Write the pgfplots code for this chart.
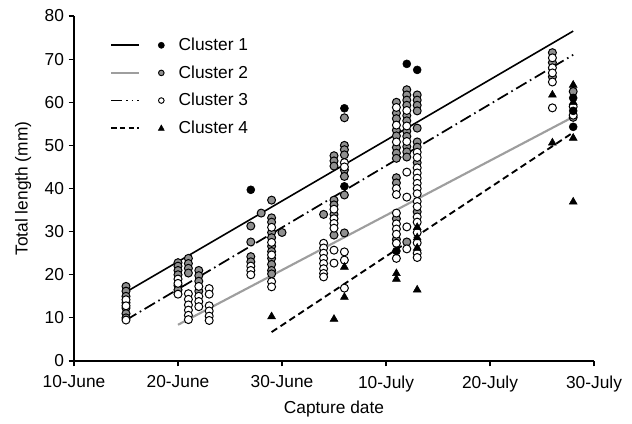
\documentclass[border=0pt]{standalone}
\usepackage{pgfplots}
\pgfplotsset{compat=1.18}
\usepackage{fontspec}
\setmainfont{Liberation Sans}
\definecolor{midgray}{gray}{0.56}
\definecolor{linegray}{gray}{0.62}
\begin{document}
\begin{tikzpicture}
\path[use as bounding box] (-55.5pt,-47.25pt) rectangle (418.5pt,270.75pt);
\begin{axis}[
 at={(0,0)}, anchor=south west,
 width=390pt, height=258.75pt, scale only axis,
 xmin=0, xmax=50, ymin=0, ymax=80,
 axis lines=left, axis line style={line width=0.9pt, -},
 xtick={0,10,...,50}, xticklabels={10-June,20-June,30-June,10-July,20-July,30-July},
 ytick={0,10,...,80},
 tick align=outside, major tick length=4pt, tick style={black, line width=0.8pt},
 /pgf/number format/assume math mode=true,
 tick label style={font=\fontsize{13}{15}\selectfont},
 xticklabel style={yshift=-3.5pt},
 label style={font=\fontsize{13}{15}\selectfont},
 xlabel={Capture date}, ylabel={Total length (mm)},
 xlabel style={at={(axis description cs:0.5,-0.14)}, anchor=center},
 ylabel style={at={(axis description cs:-0.098,0.5)}, anchor=center},
 clip=false,
 legend cell align=left,
 legend style={at={(axis description cs:0.0692,0.937)}, anchor=north west, draw=none, fill=none,
   inner sep=0pt, row sep=9.8pt, column sep=10.5pt, nodes={inner sep=0pt},
   font=\fontsize{13}{15}\selectfont},
]
% legend images
\addlegendimage{legend image code/.code={\draw[black,line width=1.2pt] (0pt,0pt) -- (21pt,0pt); \fill[black] (37.5pt,0pt) circle (2.3pt);}}
\addlegendentry{Cluster 1}
\addlegendimage{legend image code/.code={\draw[linegray,line width=1.6pt] (0pt,0pt) -- (21pt,0pt); \filldraw[fill=midgray,draw=black,line width=0.7pt] (37.5pt,0pt) circle (2.1pt);}}
\addlegendentry{Cluster 2}
\addlegendimage{legend image code/.code={\draw[black,line width=1.3pt,dash pattern=on 8pt off 3pt on 1.2pt off 3pt on 1.2pt off 3pt] (0pt,0pt) -- (21pt,0pt); \filldraw[fill=white,draw=black,line width=0.7pt] (37.5pt,0pt) circle (2.1pt);}}
\addlegendentry{Cluster 3}
\addlegendimage{legend image code/.code={\draw[black,line width=1.3pt,dash pattern=on 4pt off 2.5pt] (0pt,0pt) -- (21pt,0pt); \fill[black] (35.3pt,-1.6pt) -- (39.7pt,-1.6pt) -- (37.5pt,2.4pt) -- cycle;}}
\addlegendentry{Cluster 4}
% Cluster 2 (gray)
\addplot[only marks, mark=*, mark size=3pt, mark options={fill=midgray, draw=black, line width=0.75pt}, forget plot] coordinates {
(5,17.3)(5,16.2)(5,15.0)(5,13.5)(5,12.3)(5,11.0)(5,10.0)
(10,22.8)(10,22.0)(10,21.0)(10,20.0)(10,17.5)(10,16.5)
(11,23.8)(11,22.6)(11,21.5)(11,20.4)
(12,21.0)(12,19.8)(12,18.5)(12,16.2)
(17,31.3)(17,27.6)(17,24.2)(17,23.0)
(18,34.3)
(19,37.3)(19,33.2)(19,32.2)(19,29.8)(19,28.6)(19,26.6)(19,25.4)(19,23.8)(19,22.4)(19,21.0)(19,20.2)
(20,29.8)
(24,34.0)
(25,47.6)(25,46.4)(25,45.2)(25,37.3)(25,36.2)(25,34.0)(25,29.2)
(26,56.4)(26,50.0)(26,49.0)(26,47.8)(26,44.3)(26,42.8)(26,38.5)(26,29.7)
(31,60.0)(31,57.5)(31,56.2)(31,53.5)(31,52.2)(31,49.5)(31,48.2)(31,47.0)(31,42.5)(31,41.3)(31,33.0)(31,28.2)
(32,62.9)(32,61.7)(32,60.5)(32,59.3)(32,56.9)(32,55.7)(32,53.3)(32,52.1)(32,49.7)(32,48.5)(32,47.3)(32,27.6)
(33,61.7)(33,60.5)(33,59.3)(33,58.0)(33,54.0)(33,50.8)(33,49.6)(33,46.0)(33,34.6)
(46,71.5)(46,69.2)(46,65.9)
(48,62.5)(48,56.5)
};
% Cluster 3 (white)
\addplot[only marks, mark=*, mark size=3pt, mark options={fill=white, draw=black, line width=0.75pt}, forget plot] coordinates {
(5,14.2)(5,12.8)(5,9.5)
(10,19.0)(10,18.0)(10,15.5)
(11,15.6)(11,14.3)(11,13.0)(11,11.8)(11,10.6)(11,9.6)
(12,17.3)(12,15.0)(12,13.8)(12,12.6)
(13,16.8)(13,15.5)(13,12.8)(13,11.6)(13,10.4)(13,9.4)
(17,22.0)(17,21.0)(17,20.0)
(19,31.0)(19,27.5)(19,24.6)(19,18.4)(19,17.2)
(24,27.3)(24,26.2)(24,25.0)(24,23.8)(24,22.6)(24,21.4)(24,20.3)(24,19.5)
(25,35.2)(25,33.0)(25,31.9)(25,30.8)(25,25.7)(25,22.7)
(26,46.0)(26,45.0)(26,25.3)(26,23.4)(26,16.9)
(31,58.8)(31,54.7)(31,50.8)(31,40.0)(31,38.6)(31,34.3)(31,31.8)(31,30.6)(31,29.4)(31,27.3)(31,23.8)
(32,58.1)(32,54.5)(32,50.9)(32,43.8)(32,38.0)(32,31.1)(32,26.0)
(33,48.4)(33,47.2)(33,44.8)(33,43.6)(33,42.4)(33,41.2)(33,40.0)(33,38.8)(33,37.0)(33,35.8)(33,33.4)(33,32.2)(33,29.8)(33,27.4)(33,25.0)(33,24.0)
(46,70.3)(46,68.0)(46,66.8)(46,64.7)(46,58.7)
(48,59.0)(48,57.0)
};
% Cluster 1 (black)
\addplot[only marks, mark=*, mark size=3pt, mark options={fill=black, draw=black}, forget plot] coordinates {
(17,39.7)(26,58.6)(26,40.5)(31,25.5)(32,68.9)(33,67.5)(48,61.0)(48,58.0)(48,54.3)
};
% Cluster 4 (triangles)
\addplot[only marks, mark=triangle*, mark size=3.4pt, mark options={fill=black, draw=black}, forget plot] coordinates {
(19,10.3)(25,9.7)(26,21.8)(26,14.8)(31,20.3)(31,19.0)(33,31.0)(33,28.6)(33,26.2)(33,16.5)
(46,61.7)(46,50.6)(48,64.0)(48,60.0)(48,51.7)(48,36.9)
};
% regression lines
\addplot[black, line width=1.2pt, forget plot] coordinates {(5,16) (48,76.5)};
\addplot[linegray, line width=1.6pt, forget plot] coordinates {(10,8.4) (48,56.6)};
\addplot[black, line width=1.3pt, dash pattern=on 9pt off 3pt on 1.2pt off 3pt, forget plot] coordinates {(5,9.5) (48,71)};
\addplot[black, line width=1.4pt, dash pattern=on 5pt off 3pt, forget plot] coordinates {(19,6.7) (48,53)};
\end{axis}
\end{tikzpicture}
\end{document}
